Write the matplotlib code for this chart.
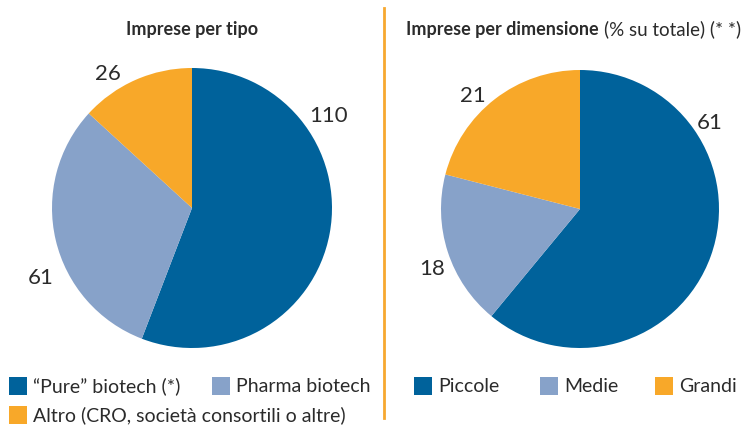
import matplotlib.pyplot as plt
from matplotlib.patches import Rectangle
from matplotlib.lines import Line2D
import numpy as np

plt.rcParams['font.family'] = ['Lato', 'DejaVu Sans']

tipo_labels = ['\u201cPure\u201d biotech (*)', 'Pharma biotech', 'Altro (CRO, società consortili o altre)']
tipo_values = [110, 61, 26]

dim_labels = ['Piccole', 'Medie', 'Grandi']
dim_values = [61, 18, 21]

colors = ['#00629b', '#87a2c9', '#f8a829']
text_color = '#2b2b2b'
# where the number labels sit around each pie: (angle in deg, distance in radii)
label_pos_tipo = [(34, 1.18), (205, 1.19), (122, 1.13)]
label_pos_dim = [(33.5, 1.12), (202, 1.15), (133.5, 1.12)]

W, H = 751, 426
fig = plt.figure(figsize=(W / 100, H / 100), dpi=100)


def draw_pie(rect, values, label_pos):
    ax = fig.add_axes(rect)
    ax.pie(values, colors=colors, startangle=90, counterclock=False,
           radius=1, wedgeprops=dict(linewidth=0))
    for v, (a, d) in zip(values, label_pos):
        t = np.deg2rad(a)
        ax.text(d * np.cos(t), d * np.sin(t), str(v), ha='center', va='center',
                fontsize=16, color=text_color)
    ax.set_xlim(-1, 1)
    ax.set_ylim(-1, 1)
    ax.set_aspect('equal')
    ax.axis('off')
    return ax


draw_pie([52 / W, 78 / H, 280 / W, 280 / H], tipo_values, label_pos_tipo)
draw_pie([441 / W, 78 / H, 278 / W, 278 / H], dim_values, label_pos_dim)

# separator
fig.add_artist(Line2D([384 / W, 384 / W], [1 - 8 / H, 1 - 418 / H], color='#f7a830', lw=2))

# titles
fig.text(192 / W, 1 - 29 / H, 'Imprese per tipo', ha='center', va='center',
         fontsize=13, fontweight='bold', color=text_color)
t1 = fig.text(406 / W, 1 - 29 / H, 'Imprese per dimensione', ha='left', va='center',
              fontsize=13, fontweight='bold', color=text_color)
fig.canvas.draw()
bb = t1.get_window_extent()
fig.text(bb.x1 / W + 5 / W, 1 - 29 / H, '(% su totale) (* *)', ha='left', va='center',
         fontsize=13.5, color=text_color)


def legend_item(x, y, label, color):
    s = 18
    fig.add_artist(Rectangle((x / W, 1 - (y + s / 2) / H), s / W, s / H,
                             facecolor=color, edgecolor='none', transform=fig.transFigure))
    fig.text((x + s + 6) / W, 1 - y / H, label, ha='left', va='center',
             fontsize=14, color=text_color)


legend_item(9, 386, tipo_labels[0], colors[0])
legend_item(212, 386, tipo_labels[1], colors[1])
legend_item(9, 415, tipo_labels[2], colors[2])

legend_item(414, 386, dim_labels[0], colors[0])
legend_item(540, 386, dim_labels[1], colors[1])
legend_item(655, 386, dim_labels[2], colors[2])

plt.savefig('out.png', dpi=100)
